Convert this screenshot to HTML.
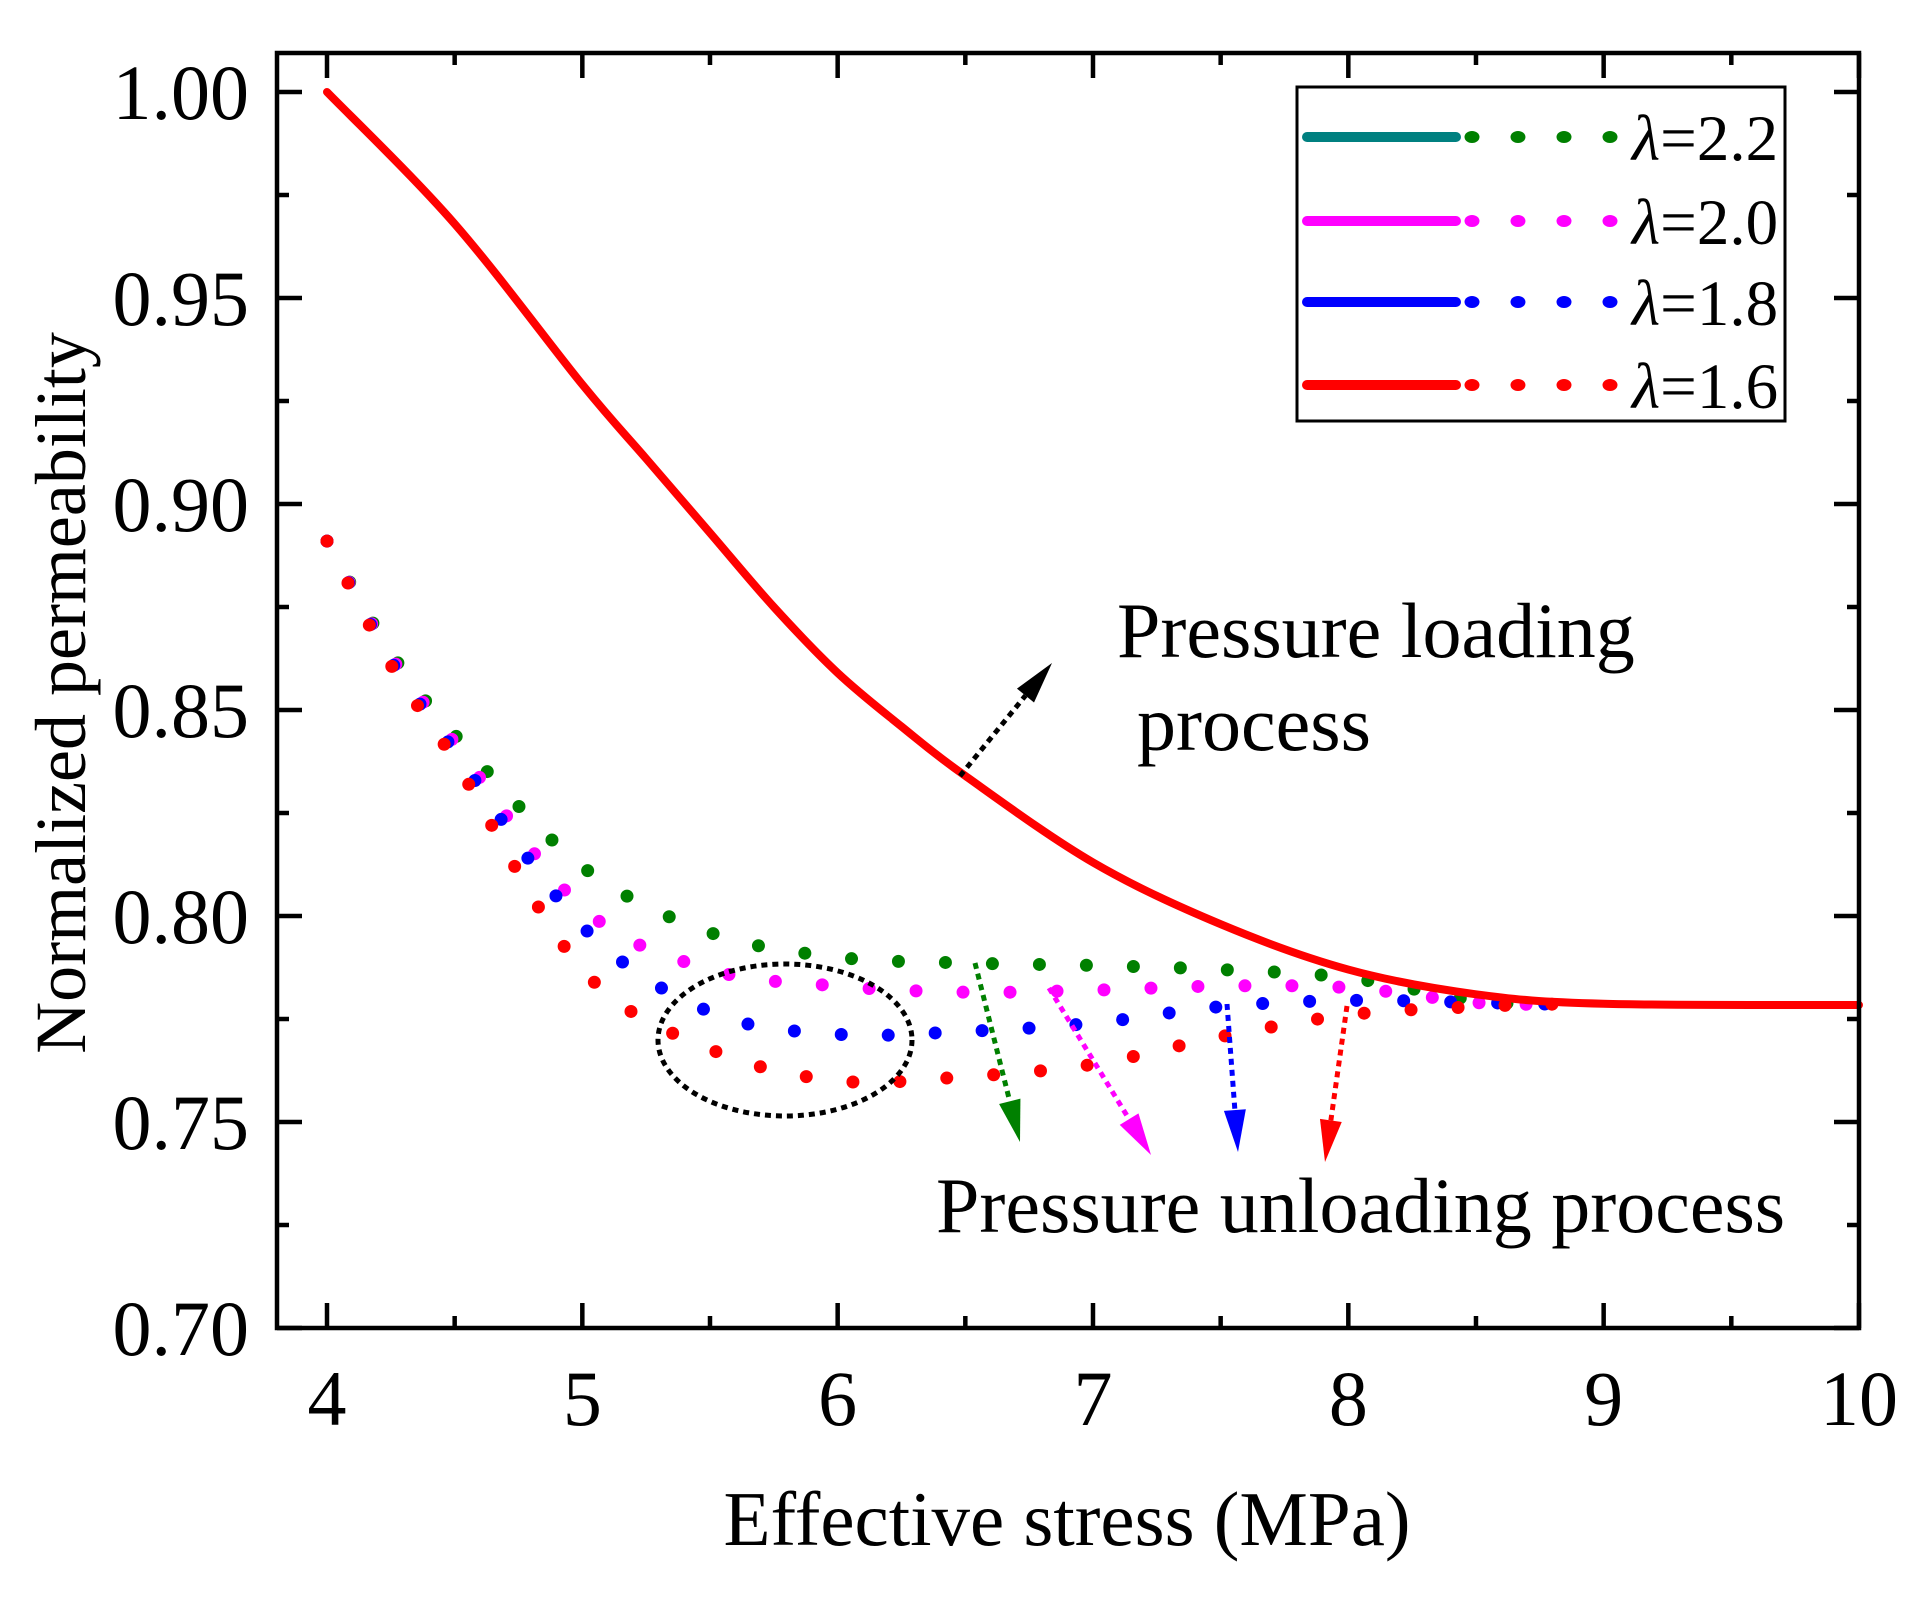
<!DOCTYPE html>
<html><head><meta charset="utf-8"><style>
html,body{margin:0;padding:0;background:#fff;}
svg{display:block;font-family:"Liberation Serif","Times New Roman",serif;}
</style></head><body>
<svg id="chart" width="1924" height="1602" viewBox="0 0 1924 1602" xmlns="http://www.w3.org/2000/svg">
<g id="plot"></g>
</svg>
<script>
const xTicks = [4,5,6,7,8,9,10];
const yTicks = [0.70,0.75,0.80,0.85,0.90,0.95,1.00];
const yTickLabels = ["0.70","0.75","0.80","0.85","0.90","0.95","1.00"];
const loadX = [4,4.5,5,5.25,5.5,5.75,6,6.25,6.5,7,7.5,8,8.5,9,10];
const loadY = [1.000,0.968,0.929,0.911,0.893,0.875,0.859,0.846,0.834,0.813,0.798,0.787,0.781,0.7787,0.7784];
const unX = [4,4.25,4.5,5,5.5,6,6.5,7,7.5,8,8.5,8.8];
const un22 = [0.891,0.864,0.844,0.812,0.796,0.790,0.7886,0.788,0.787,0.785,0.7795,0.7786];
const un20 = [0.891,0.863,0.842,0.802,0.787,0.783,0.7815,0.782,0.783,0.7826,0.779,0.7786];
const un18 = [0.891,0.862,0.840,0.7975,0.7767,0.7713,0.772,0.774,0.778,0.7795,0.779,0.7786];
const un16 = [0.891,0.861,0.8377,0.787,0.7677,0.760,0.761,0.764,0.7707,0.776,0.778,0.7786];
const legendLabels = ["λ=2.2","λ=2.0","λ=1.8","λ=1.6"];

const NS="http://www.w3.org/2000/svg";
const L=277,R=1859,T=53,B=1328;
function sx(v){return 327+(v-4)*255.33;}
function sy(v){return 1328-(v-0.70)*4120;}
const g=document.getElementById('plot');
function el(tag,attrs,parent){const e=document.createElementNS(NS,tag);for(const k in attrs)e.setAttribute(k,attrs[k]);(parent||g).appendChild(e);return e;}
function smooth(xs,ys){
  const p=xs.map((x,i)=>[sx(x),sy(ys[i])]);
  let d="M"+p[0][0]+","+p[0][1];
  for(let i=0;i<p.length-1;i++){
    const p0=p[i-1]||p[i],p1=p[i],p2=p[i+1],p3=p[i+2]||p2;
    const c1=[p1[0]+(p2[0]-p0[0])/6,p1[1]+(p2[1]-p0[1])/6];
    const c2=[p2[0]-(p3[0]-p1[0])/6,p2[1]-(p3[1]-p1[1])/6];
    d+=" C"+c1[0]+","+c1[1]+" "+c2[0]+","+c2[1]+" "+p2[0]+","+p2[1];
  }
  return d;
}
const series=[[un22,"#008000","unloading-2-2"],[un20,"#ff00ff","unloading-2-0"],[un18,"#0000ff","unloading-1-8"],[un16,"#ff0000","unloading-1-6"]];
for(const s of series){
  const p=el('path',{d:smooth(unX,s[0]),fill:'none',stroke:s[1],'stroke-width':13,'stroke-linecap':'round','stroke-dasharray':'0 47'});
  
  
}
const lp=el('path',{d:smooth(loadX,loadY),fill:'none',stroke:'#ff0000','stroke-width':8,'stroke-linecap':'round'});



const fr=el('rect',{x:L,y:T,width:R-L,height:B-T,fill:'none',stroke:'#000','stroke-width':4.5});


for(let v=4;v<=10.001;v+=0.5){
  const major=Math.abs(v-Math.round(v))<0.01, len=major?25:12, x=sx(v);
  el('line',{x1:x,y1:B,x2:x,y2:B-len,stroke:'#000','stroke-width':4.5});
  el('line',{x1:x,y1:T,x2:x,y2:T+len,stroke:'#000','stroke-width':4.5});
}
xTicks.forEach(v=>{
  const t=el('text',{x:sx(v),y:1425,'font-size':78,'text-anchor':'middle'});
  t.textContent=String(v);
  
  
});
for(let v=0.70;v<=1.001;v+=0.025){
  const major=Math.abs(v*20-Math.round(v*20))<0.01, len=major?25:12, y=sy(v);
  el('line',{x1:L,y1:y,x2:L+len,y2:y,stroke:'#000','stroke-width':4.5});
  el('line',{x1:R,y1:y,x2:R-len,y2:y,stroke:'#000','stroke-width':4.5});
}
yTicks.forEach((v,i)=>{
  const t=el('text',{x:249,y:sy(v)+27,'font-size':78,'text-anchor':'end'});
  t.textContent=yTickLabels[i];
  
  
});
const xt=el('text',{x:1067,y:1545,'font-size':77,'text-anchor':'middle'});
xt.textContent="Effective stress (MPa)";


const yt=el('text',{x:0,y:0,'font-size':72,'text-anchor':'middle',transform:'translate(85,693) rotate(-90)'});
yt.textContent="Normalized permeability";



function ann(txt,x,y,name){const t=el('text',{x:x,y:y,'font-size':78});t.textContent=txt;}
ann("Pressure loading",1117,657,'loading-annotation');
ann("process",1137,750,'loading-annotation-2');
ann("Pressure unloading process",936,1232,'unloading-annotation');
const ell=el('ellipse',{cx:785,cy:1040,rx:127,ry:76,fill:'none',stroke:'#000','stroke-width':5,'stroke-dasharray':'6 5'});


function arrow(x1,y1,x2,y2,c,name){
  const ang=Math.atan2(y2-y1,x2-x1), hl=42, hw=11;
  const bx=x2-hl*Math.cos(ang), by=y2-hl*Math.sin(ang);
  const ln=el('line',{x1:x1,y1:y1,x2:bx,y2:by,stroke:c,'stroke-width':5,'stroke-dasharray':'6 5'});
  
  
  const px=-Math.sin(ang)*hw, py=Math.cos(ang)*hw;
  const hd=el('polygon',{points:`${x2},${y2} ${bx+px},${by+py} ${bx-px},${by-py}`,fill:c});
  
  
}
arrow(975,963,1020,1142,'#008000','arrow-2-2');
arrow(1049,988,1151,1155,'#ff00ff','arrow-2-0');
arrow(1227,1004,1238,1152,'#0000ff','arrow-1-8');
arrow(1347,1006,1325,1162,'#ff0000','arrow-1-6');
arrow(960,776,1052,663,'#000','arrow-loading');

const lg=el('rect',{x:1297,y:87,width:488,height:334,fill:'#fff',stroke:'#000','stroke-width':3});


const lc=[["#008080","#008000"],["#ff00ff","#ff00ff"],["#0000ff","#0000ff"],["#ff0000","#ff0000"]];
const rows=[137,221,302,385];
legendLabels.forEach((lab,i)=>{
  const y=rows[i];
  const a=el('line',{x1:1307,y1:y,x2:1456,y2:y,stroke:lc[i][0],'stroke-width':10,'stroke-linecap':'round'});
  
  
  [1472,1518,1564,1610].forEach(cx=>{
    const d=el('ellipse',{cx:cx,cy:y,rx:7.5,ry:6,fill:lc[i][1]});
    
    
  });
  const t=el('text',{x:1632,y:y+23,'font-size':65});
  t.innerHTML='<tspan font-style="italic">λ</tspan>'+lab.slice(1);
  
  
});
</script>
</body></html>
